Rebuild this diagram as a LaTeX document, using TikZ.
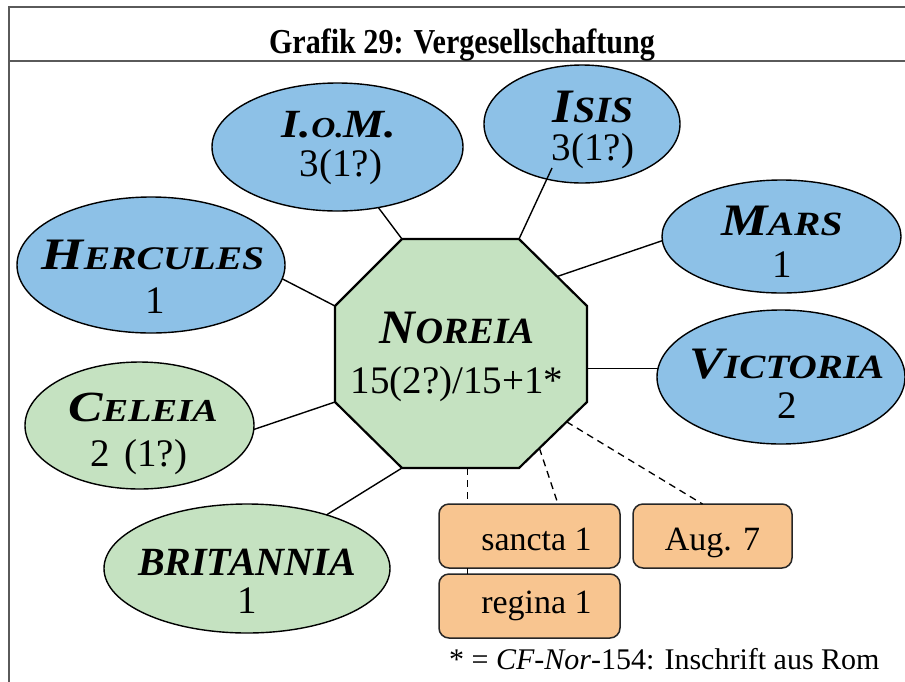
\documentclass[tikz,border=0pt]{standalone}
\usepackage{fontspec}
\usepackage{graphicx}
\setmainfont{Liberation Serif}
\usetikzlibrary{calc,shapes.geometric}
\definecolor{godblue}{HTML}{8DC1E7}
\definecolor{placegreen}{HTML}{C5E2C1}
\definecolor{epiorange}{HTML}{F8C590}
\definecolor{framegray}{HTML}{5A5A5A}
\newcommand{\fsz}[1]{\fontsize{#1}{#1}\selectfont}
\newcommand{\smc}[4]{{\fsz{#1}#3}{\fsz{#2}#4}}
\begin{document}
\begin{tikzpicture}[x=1pt,y=-1pt,
  ell/.style={ellipse, draw=black, line width=1.4pt, inner sep=0pt, outer sep=0pt},
  god/.style={ell, fill=godblue},
  place/.style={ell, fill=placegreen},
  epi/.style={draw=black!85, line width=1.5pt, fill=epiorange, rounded corners=10pt,
              minimum width=181pt, minimum height=64pt, inner sep=0pt, outer sep=0pt,
              font=\fsz{34}},
  nm/.style={anchor=base, inner sep=0pt, font=\bfseries\itshape},
  num/.style={anchor=base, inner sep=0pt, font=\fsz{39}},
  link/.style={draw=black, line width=1.4pt},
  dlink/.style={draw=black, line width=1.3pt, dash pattern=on 7pt off 5pt},
  framebar/.style={draw=framegray, line width=2.2pt}
]
\useasboundingbox (0,0) rectangle (905,681);
\clip (0,0) rectangle (905,681);
\fill[white] (0,0) rectangle (905,681);

% frame
\draw[framebar] (9,700) -- (9,7) -- (930,7);
\draw[framebar] (9,61) -- (930,61);
\node[anchor=base, inner sep=0pt, font=\bfseries\fsz{35}] (title) at (462,53) {\scalebox{0.86}[1]{Grafik 29: Vergesellschaftung}};

% octagon
\coordinate (o1) at (402,239);
\coordinate (o2) at (519,239);
\coordinate (o3) at (587,306);
\coordinate (o4) at (587,402);
\coordinate (o5) at (519,468);
\coordinate (o6) at (402,468);
\coordinate (o7) at (335,402);
\coordinate (o8) at (335,306);
\filldraw[fill=placegreen, draw=black, line width=2.2pt, line join=miter]
  (o1) -- (o2) -- (o3) -- (o4) -- (o5) -- (o6) -- (o7) -- (o8) -- cycle;
\node[nm] (nor) at (457,343) {\scalebox{1.03}[1]{\smc{48}{37}{N}{OREIA}}};
\node[num] (norn) at (457,393) {15(2?)/15+1*};

% ellipses
\node[god, minimum width=251pt, minimum height=128pt] (iom) at (337.5,147) {};
\node[nm] (iomt) at (339,137) {\scalebox{1.15}[1]{\smc{40}{29}{I.}{O.}{\fsz{40}M.}}};
\node[num] (iomn) at (341,176) {3(1?)};

\node[god, minimum width=196pt, minimum height=118pt] (isis) at (582,124) {};
\node[nm] (isist) at (593,122) {\scalebox{1.08}[1]{\smc{48}{37}{I}{SIS}}};
\node[num] (isisn) at (593,160) {3(1?)};

\node[god, minimum width=268pt, minimum height=136pt] (her) at (151,265) {};
\node[nm] (hert) at (153,269) {\scalebox{1.2}[1]{\smc{45}{33}{H}{ERCULES}}};
\node[num] (hern) at (155,313) {1};

\node[god, minimum width=239pt, minimum height=113pt] (mars) at (781.5,236.5) {};
\node[nm] (marst) at (782,235) {\scalebox{1.16}[1]{\smc{45}{34}{M}{ARS}}};
\node[num] (marsn) at (782,277) {1};

\node[god, minimum width=248pt, minimum height=134pt] (vic) at (781,377) {};
\node[nm] (vict) at (787,378) {\scalebox{1.15}[1]{\smc{45}{34}{V}{ICTORIA}}};
\node[num] (vicn) at (787,418) {2};

\node[place, minimum width=229pt, minimum height=127pt] (cel) at (139.5,425.5) {};
\node[nm] (celt) at (143,421) {\scalebox{1.2}[1]{\smc{43}{32}{C}{ELEIA}}};
\node[num] (celn) at (139,466) {2\hspace{4pt} (1?)};

\node[place, minimum width=286pt, minimum height=129pt] (bri) at (247,568.5) {};
\node[nm, font=\bfseries\itshape\fsz{40}] (brit) at (247,575) {BRITANNIA};
\node[num] (brin) at (247,613) {1};

% boxes
\node[epi, text height=28pt, text depth=0pt] (san) at (529.5,536) {\hspace*{14pt}sancta 1};
\node[epi] (reg) at (529.5,606) {\hspace*{14pt}regina 1};
\node[epi, minimum width=159pt, text height=28pt, text depth=0pt] (aug) at (712.5,536) {Aug. 7};

% connectors
\coordinate (isisin) at (552,168);
\coordinate (m1) at ($(o2)!0.56!(o3)$);
\coordinate (d1) at ($(o6)!0.56!(o5)$);
\coordinate (d2) at ($(o4)!0.70!(o5)$);
\coordinate (d3) at ($(o4)!0.30!(o5)$);
\draw[link] (her.-6) -- (o8);
\draw[link] (iom.-56) -- (o1);
\draw[link] (o2) -- (isisin);
\draw[link] (mars.-178) -- (m1);
\draw[link] (vic.176) -- (vic.176 -| o3);
\draw[link] (cel.-2) -- (o7);
\draw[link] (bri.34) -- (o6);
\draw[dlink] (d1) -- (d1 |- san.north);
\draw[dlink] (d2) -- ($(san.north east)+(-62,0)$);
\draw[dlink] (d3) -- ($(aug.north)+(-10,0)$);
\draw[link] (d1 |- san.south) -- (d1 |- reg.north);

% footnote
\node[anchor=base west, inner sep=0pt, font=\fsz{30}] (fn) at (449,669) {* = \textit{CF-Nor}-154: Inschrift aus Rom};
\end{tikzpicture}
\end{document}
